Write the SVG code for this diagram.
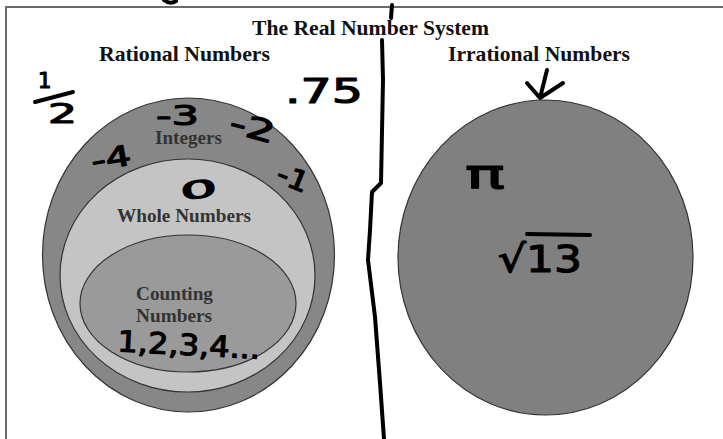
<svg xmlns="http://www.w3.org/2000/svg" width="723" height="439" viewBox="0 0 723 439">
<style>
.frame{fill:none;stroke:#6a6a6a;stroke-width:2}
.head{font-family:"Liberation Serif","Times New Roman",serif;font-weight:bold;font-size:21px;fill:#111}
.lab{font-family:"Liberation Serif","Times New Roman",serif;font-weight:bold;font-size:18px;fill:#333}
.set{stroke:#333;stroke-width:1.2}
.hw{font-family:"DejaVu Sans",sans-serif;fill:#000;stroke:#000;stroke-width:1.2;stroke-linejoin:round}
.ink{fill:none;stroke:#000;stroke-width:4;stroke-linecap:round;stroke-linejoin:round}
</style>
<rect width="723" height="439" fill="#fff"/>
<g id="frame">
<path class="frame" d="M6,439 V7 H723"/>
</g>
<g id="title">
<text class="head" x="252" y="35" textLength="237" lengthAdjust="spacingAndGlyphs">The Real Number System</text>
</g>
<g id="rational">
<text class="head" x="99" y="61" textLength="171" lengthAdjust="spacingAndGlyphs">Rational Numbers</text>
<g id="integers">
<ellipse class="set" cx="188.5" cy="255" rx="146" ry="157" fill="#878787"/>
<text class="lab" x="155" y="144" textLength="67" lengthAdjust="spacingAndGlyphs">Integers</text>
</g>
<g id="whole">
<ellipse class="set" cx="187.5" cy="275.5" rx="127.5" ry="116.5" fill="#c4c4c4"/>
<text class="lab" x="117" y="222" textLength="134" lengthAdjust="spacingAndGlyphs">Whole Numbers</text>
</g>
<g id="counting">
<ellipse class="set" cx="188" cy="303.5" rx="108" ry="68.5" fill="#9a9a9a"/>
<text class="lab" x="136" y="300" textLength="77" lengthAdjust="spacingAndGlyphs">Counting</text>
<text class="lab" x="136" y="322" textLength="76" lengthAdjust="spacingAndGlyphs">Numbers</text>
</g>
</g>
<g id="irrational">
<text class="head" x="448" y="61" textLength="182" lengthAdjust="spacingAndGlyphs">Irrational Numbers</text>
<ellipse class="set" cx="545.5" cy="257.5" rx="147.5" ry="157.5" fill="#808080"/>
</g>
<g id="handwriting">
<text class="hw" x="38" y="88" font-size="21">1</text>
<path class="ink" d="M35,102 L73,92"/>
<text class="hw" x="48" y="123" font-size="27" textLength="29" lengthAdjust="spacingAndGlyphs">2</text>
<text class="hw" x="285" y="103" font-size="33" textLength="78" lengthAdjust="spacingAndGlyphs">.75</text>
<text class="hw" x="156" y="125" font-size="27" textLength="43" lengthAdjust="spacingAndGlyphs">-3</text>
<text class="hw" x="229" y="138" font-size="30" textLength="46" lengthAdjust="spacingAndGlyphs" transform="rotate(15 252 130)">-2</text>
<text class="hw" x="91" y="168" font-size="28" textLength="40" lengthAdjust="spacingAndGlyphs" transform="rotate(-10 111 158)">-4</text>
<text class="hw" x="277" y="188" font-size="28" textLength="32" lengthAdjust="spacingAndGlyphs" transform="rotate(22 293 178)">-1</text>
<text class="hw" x="180" y="198" font-size="24" textLength="37" lengthAdjust="spacingAndGlyphs" transform="rotate(-8 198 188)">0</text>
<text class="hw" x="117" y="355" font-size="29" textLength="143" lengthAdjust="spacingAndGlyphs" transform="rotate(3 188 352)">1,2,3,4...</text>
<text class="hw" x="465" y="188" font-size="40" textLength="40" lengthAdjust="spacingAndGlyphs">π</text>
<text class="hw" x="498" y="272" font-size="38" textLength="84" lengthAdjust="spacingAndGlyphs">√13</text>
<path class="ink" d="M527,234 L590,235"/>
</g>
<g id="connectors">
<path class="ink" d="M392,5 L391,18"/>
<path class="ink" d="M382,40 L383,80 L381,183 L372,192 L370,230 L368,260 L375,317 L380,383 L384,439"/>
<path class="ink" d="M547,70 L540,98 M527,83 L540,98 L563,83"/>
<path class="ink" d="M164,0 Q170,5 176,1"/>
</g>
</svg>
